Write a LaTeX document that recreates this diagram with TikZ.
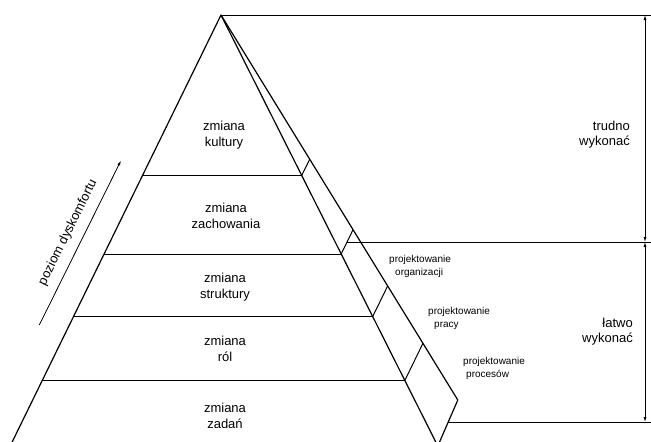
\documentclass[tikz,border=0pt]{standalone}
\usepackage{fontspec}
\setmainfont{Liberation Sans}
\usetikzlibrary{arrows.meta}
\begin{document}
\begin{tikzpicture}[x=1pt,y=-1pt,
  edge/.style={line width=1.2pt, line join=round},
  level/.style={line width=1pt},
  guide/.style={line width=0.8pt},
  dim/.style={line width=0.8pt, {Latex[length=5pt,width=3pt]}-{Latex[length=5pt,width=3pt]}},
  band/.style={font=\fontsize{13}{16}\selectfont, align=center, inner sep=0pt, anchor=north},
  design/.style={font=\fontsize{10}{13}\selectfont, align=left, inner sep=0pt, anchor=north west},
  effort/.style={font=\fontsize{13}{15}\selectfont, align=right, inner sep=0pt, anchor=north east},
]
\useasboundingbox (0,0) rectangle (651,442);
\clip (0,0) rectangle (651,442);
\fill[white] (0,0) rectangle (651,442);

% pyramid outline: front face and right side face
\coordinate (apex)  at (221,15);
\coordinate (baseL) at (10.2,446);
\coordinate (baseR) at (437.8,446);
\coordinate (backB) at (457.8,400);

% level lines: left edge, front edge, back edge of the side face
\coordinate (L1) at (142.5,175.5); \coordinate (F1) at (301.7,175.5); \coordinate (B1) at (309.7,159.2);
\coordinate (L2) at (104.1,254);   \coordinate (F2) at (341.2,254);   \coordinate (B2) at (353.0,229.8);
\coordinate (L3) at (73.6,316.5);  \coordinate (F3) at (372.7,316.5); \coordinate (B3) at (387.7,285.9);
\coordinate (L4) at (42.3,380.5);  \coordinate (F4) at (404.8,380.5); \coordinate (B4) at (422.9,343.4);

\draw[edge] (baseL) -- (apex) -- (baseR);
\draw[edge] (apex) -- (backB) -- (baseR);

\foreach \i in {1,2,3,4} {
  \draw[level] (L\i) -- (F\i);
  \draw[level] (F\i) -- (B\i);
}

% horizontal guides and effort scale
\coordinate (topR) at (651,15);
\coordinate (midL) at (347.1,242);  \coordinate (midR) at (651,242);
\coordinate (botL) at (448.2,422);  \coordinate (botR) at (651,422);
\draw[guide] (apex) -- (topR);
\draw[guide] (midL) -- (midR);
\draw[guide] (botL) -- (botR);

\coordinate (d1) at (645,15);
\coordinate (d2) at (645,242);
\coordinate (d3) at (645,422);
\draw[dim] (d1) -- (d2);
\draw[dim] (d2) -- (d3);

% discomfort arrow
\coordinate (dtail) at (39.3,325);
\coordinate (dtip)  at (121,160.5);
\draw[guide, -{Latex[length=5pt,width=3pt]}] (dtail) --
  node[sloped, above=9pt, pos=0.52, inner sep=0pt, font=\fontsize{13}{15}\selectfont] (dlabel) {poziom dyskomfortu}
  (dtip);

% band labels
\node[band] (kultura)    at (224,120.7) {zmiana\\kultury};
\node[band] (zachowanie) at (226,202.7) {zmiana\\zachowania};
\node[band] (struktura)  at (225,272.7) {zmiana\\struktury};
\node[band] (role)       at (225,335.7) {zmiana\\ról};
\node[band] (zadania)    at (225,402.7) {zmiana\\zadań};

% side face labels
\node[design] (porg)  at (389,254.8) {projektowanie\\\hspace*{6pt}organizacji};
\node[design] (ppr)   at (428,306.8) {projektowanie\\\hspace*{6pt}pracy};
\node[design] (pproc) at (463,356.8) {projektowanie\\\hspace*{3pt}procesów};

% effort labels
\node[effort] (trudno) at (630,120.7) {trudno\\wykonać};
\node[effort] (latwo)  at (633,317.7) {łatwo\\wykonać};
\end{tikzpicture}
\end{document}
